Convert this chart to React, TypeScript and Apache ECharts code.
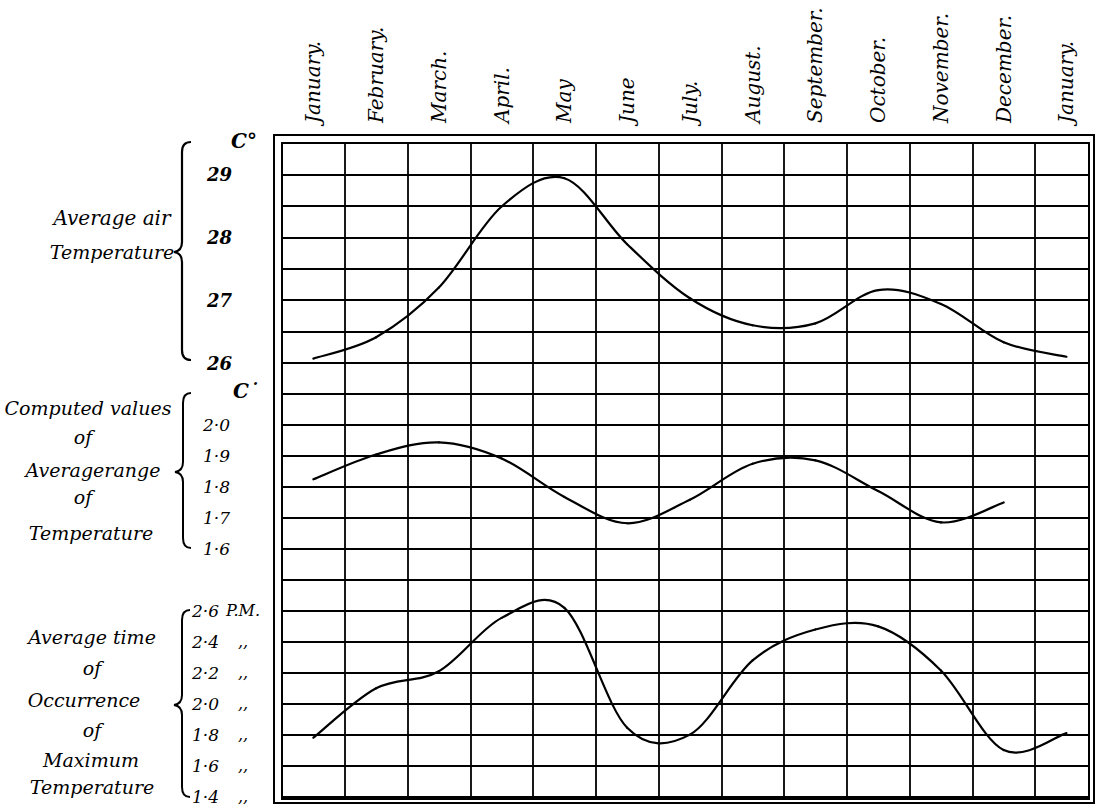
import React, { useEffect, useRef } from "react";
import * as echarts from "echarts";

// ---------- data ----------
const months = [
  "January.", "February.", "March.", "April.", "May", "June", "July.",
  "August.", "September.", "October.", "November.", "December.", "January.",
];

// Average air temperature, °C (January … January)
const airTemperature = [26.07, 26.41, 27.2, 28.49, 28.94, 27.89, 27.03, 26.6, 26.63, 27.16, 26.94, 26.33, 26.1];
// Computed values of average range of temperature, °C (January … December)
const temperatureRange = [1.825, 1.905, 1.944, 1.892, 1.768, 1.683, 1.759, 1.875, 1.886, 1.787, 1.686, 1.75];
// Average time of occurrence of maximum temperature, hours P.M. (January … January)
const maxTempTime = [1.78, 2.1, 2.21, 2.555, 2.62, 1.845, 1.8, 2.28, 2.48, 2.5, 2.215, 1.7, 1.81];

const tempTicks = [26, 27, 28, 29];
const rangeTicks = [1.6, 1.7, 1.8, 1.9, 2.0];
const timeTicks = [1.4, 1.6, 1.8, 2.0, 2.2, 2.4, 2.6];

const leftLabels1 = ["Average air", "Temperature"];
const leftLabels2 = ["Computed values", "of", "Averagerange", "of", "Temperature"];
const leftLabels3 = ["Average time", "of", "Occurrence", "of", "Maximum", "Temperature"];

// ---------- styling ----------
const FONT = '"DejaVu Serif", "Liberation Serif", serif';
const INK = "#000";

function bracePath(xr: number, xv: number, xt: number, y0: number, ym: number, y1: number) {
  const r = 10;
  return [
    `M ${xr} ${y0}`,
    `Q ${xv} ${y0} ${xv} ${y0 + r}`,
    `L ${xv} ${ym - r}`,
    `Q ${xv} ${ym - 1} ${xt} ${ym}`,
    `Q ${xv} ${ym + 1} ${xv} ${ym + r}`,
    `L ${xv} ${y1 - r}`,
    `Q ${xv} ${y1} ${xr} ${y1}`,
  ].join(" ");
}

echarts.graphic.registerShape("brace1", echarts.graphic.extendPath(bracePath(191, 182, 174, 142, 252, 360), {}));
echarts.graphic.registerShape("brace2", echarts.graphic.extendPath(bracePath(191, 183, 175, 393, 472, 548), {}));
echarts.graphic.registerShape("brace3", echarts.graphic.extendPath(bracePath(190, 182, 174, 610, 705, 797), {}));

function textEl(text: string, x: number, y: number, size = 19, align = "center", weight = "normal") {
  return {
    type: "text",
    x,
    y,
    silent: true,
    style: {
      text,
      fill: INK,
      fontFamily: FONT,
      fontStyle: "italic",
      fontWeight: weight,
      fontSize: size,
      align,
      verticalAlign: "middle",
      textAlign: align,
      textVerticalAlign: "middle",
    },
  };
}

function fmtDot(v: number) {
  return v.toFixed(1).replace(".", "\u00B7");
}

// Smooth hand-drawn-like curve through the monthly points (Catmull-Rom segments),
// positioned with the axes' own scales via api.coord.
function curveSeries(idx: number, values: number[]) {
  const data = values.map((v, i) => [i + 0.5, v]);
  const n = data.length;
  return {
    type: "custom",
    xAxisIndex: idx,
    yAxisIndex: idx,
    silent: true,
    encode: { x: 0, y: 1 },
    data,
    renderItem: (params: any, api: any) => {
      const i = params.dataIndex;
      if (i >= n - 1) return null;
      const pt = (k: number) => api.coord(data[Math.min(Math.max(k, 0), n - 1)]);
      const p0 = pt(i - 1);
      const p1 = pt(i);
      const p2 = pt(i + 1);
      const p3 = pt(i + 2);
      return {
        type: "bezierCurve",
        shape: {
          x1: p1[0],
          y1: p1[1],
          x2: p2[0],
          y2: p2[1],
          cpx1: p1[0] + (p2[0] - p0[0]) / 6,
          cpy1: p1[1] + (p2[1] - p0[1]) / 6,
          cpx2: p2[0] - (p3[0] - p1[0]) / 6,
          cpy2: p2[1] - (p3[1] - p1[1]) / 6,
        },
        style: { stroke: INK, lineWidth: 2.2, fill: "none", lineCap: "round" },
      };
    },
  };
}

export default function App() {
  const ref = useRef<HTMLDivElement>(null);

  useEffect(() => {
    if (!ref.current) return;
    const chart = echarts.init(ref.current, undefined, { renderer: "svg" });

    const gridStyle = { show: false, left: 282, right: 12 };

    const splitLine = { show: true, lineStyle: { color: INK, width: 1.8 } };

    const xAxisFor = (gridIndex: number) => ({
      type: "value",
      gridIndex,
      min: 0,
      max: 12.86,
      interval: 1,
      position: gridIndex === 0 ? "top" : "bottom",
      axisLine: { show: false },
      axisTick: { show: false },
      splitLine,
      axisLabel:
        gridIndex === 0
          ? {
              show: true,
              customValues: months.map((_, i) => i + 0.5),
              formatter: (v: number) => months[Math.floor(v)],
              rotate: -90,
              margin: 20,
              color: INK,
              fontFamily: FONT,
              fontStyle: "italic",
              fontSize: 20,
            }
          : { show: false },
    });

    const yLabelBase = {
      color: INK,
      fontFamily: FONT,
      fontStyle: "italic",
      fontSize: 17,
      align: "left",
    };

    const option: any = {
      animation: false,
      backgroundColor: "#fff",
      grid: [
        { ...gridStyle, top: 143, height: 220 },
        { ...gridStyle, top: 363, height: 217 },
        { ...gridStyle, top: 580, height: 219 },
      ],
      xAxis: [xAxisFor(0), xAxisFor(1), xAxisFor(2)],
      yAxis: [
        {
          type: "value",
          gridIndex: 0,
          min: 26,
          max: 29.5,
          interval: 0.5,
          axisLine: { show: false },
          axisTick: { show: false },
          splitLine,
          axisLabel: {
            ...yLabelBase,
            fontSize: 18,
            fontWeight: "bold",
            margin: 75,
            customValues: tempTicks,
            formatter: (v: number) => String(Math.round(v)),
          },
        },
        {
          type: "value",
          gridIndex: 1,
          min: 1.5,
          max: 2.2,
          interval: 0.1,
          axisLine: { show: false },
          axisTick: { show: false },
          splitLine,
          axisLabel: {
            ...yLabelBase,
            margin: 79,
            customValues: rangeTicks,
            formatter: (v: number) => fmtDot(v),
          },
        },
        {
          type: "value",
          gridIndex: 2,
          min: 1.4,
          max: 2.8,
          interval: 0.2,
          axisLine: { show: false },
          axisTick: { show: false },
          splitLine,
          axisLabel: {
            ...yLabelBase,
            margin: 90,
            customValues: timeTicks,
            formatter: (v: number) =>
              Math.abs(v - 2.6) < 1e-6 ? `{n|${fmtDot(v)}}{p|P.M.}` : `{n|${fmtDot(v)}}{d|,,}`,
            rich: {
              n: { width: 32, align: "left", fontFamily: FONT, fontStyle: "italic", fontSize: 17, color: INK },
              p: { width: 38, align: "center", fontFamily: FONT, fontStyle: "italic", fontSize: 16, color: INK },
              d: { width: 38, align: "center", fontFamily: FONT, fontStyle: "italic", fontSize: 16, color: INK },
            },
          },
        },
      ],
      series: [
        curveSeries(0, airTemperature),
        curveSeries(1, temperatureRange),
        curveSeries(2, maxTempTime),
      ],
      graphic: [
        {
          type: "rect",
          silent: true,
          shape: { x: 274, y: 135, width: 820, height: 668 },
          style: { fill: "none", stroke: INK, lineWidth: 2 },
        },
        {
          type: "rect",
          silent: true,
          shape: { x: 282, y: 143, width: 807, height: 656 },
          style: { fill: "none", stroke: INK, lineWidth: 2 },
        },
        { type: "brace1", silent: true, style: { fill: "none", stroke: INK, lineWidth: 2.2 } },
        { type: "brace2", silent: true, style: { fill: "none", stroke: INK, lineWidth: 2 } },
        { type: "brace3", silent: true, style: { fill: "none", stroke: INK, lineWidth: 2 } },
        textEl("C\u00B0", 244, 141, 20, "center", "bold"),
        textEl("C\u02D9", 246, 391, 20, "center", "bold"),
        textEl(leftLabels1[0], 112, 218, 20),
        textEl(leftLabels1[1], 112, 252),
        textEl(leftLabels2[0], 88, 408),
        textEl(leftLabels2[1], 83, 437),
        textEl(leftLabels2[2], 93, 470),
        textEl(leftLabels2[3], 83, 497),
        textEl(leftLabels2[4], 91, 533),
        textEl(leftLabels3[0], 92, 637),
        textEl(leftLabels3[1], 92, 668),
        textEl(leftLabels3[2], 84, 700),
        textEl(leftLabels3[3], 92, 730),
        textEl(leftLabels3[4], 91, 760),
        textEl(leftLabels3[5], 92, 787),
      ],
    };

    chart.setOption(option);
    return () => chart.dispose();
  }, []);

  return (
    <div
      ref={ref}
      style={{ position: "fixed", left: 0, top: 0, width: 1101, height: 805, background: "#fff" }}
    />
  );
}
